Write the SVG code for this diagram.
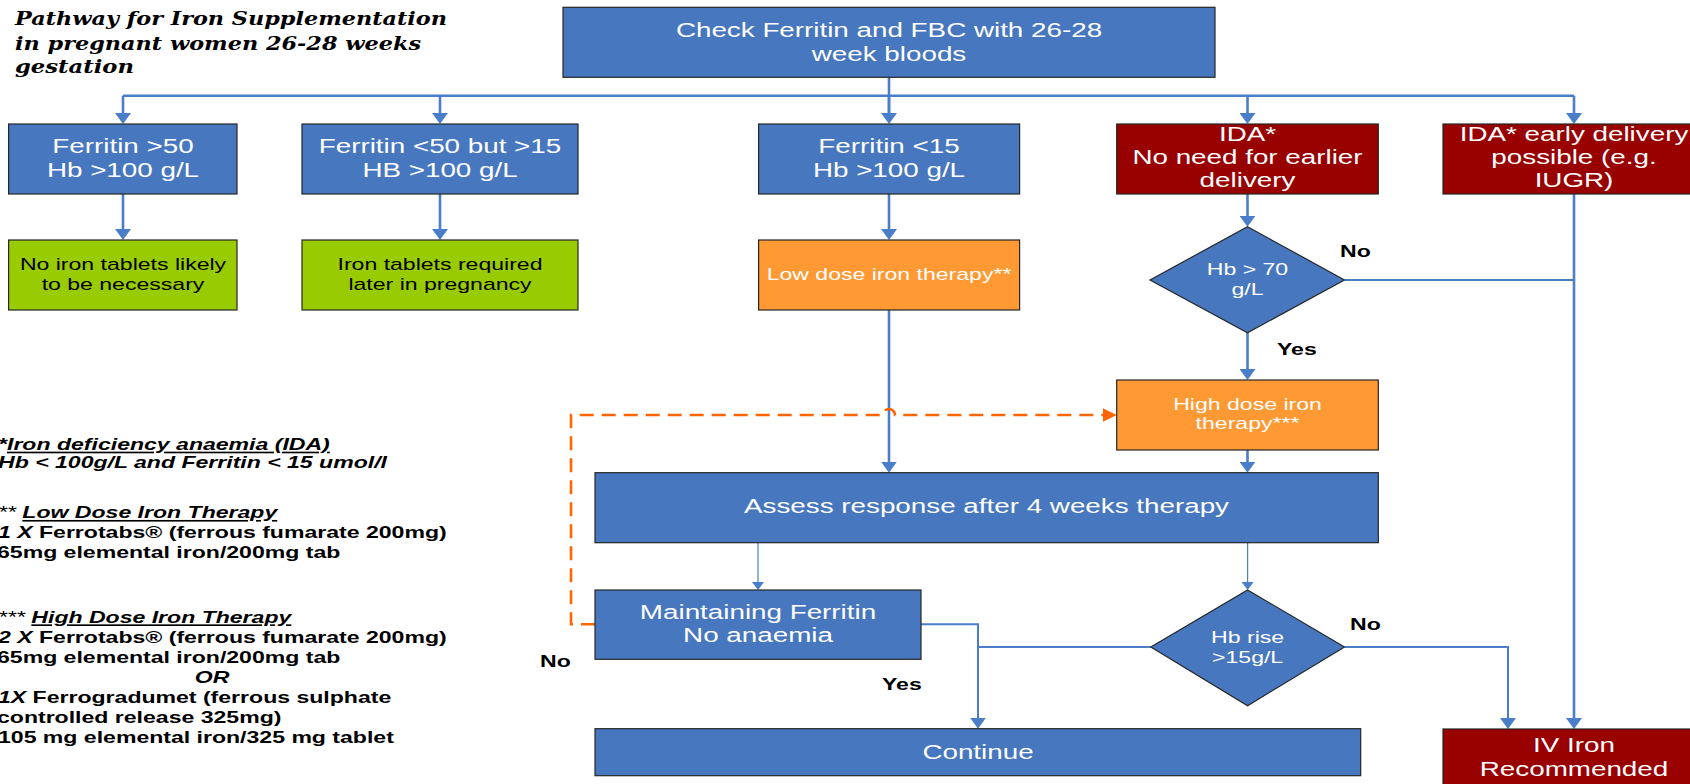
<svg xmlns="http://www.w3.org/2000/svg" width="1690" height="784" viewBox="0 0 1690 784">
<defs>
<style>
.b{fill:#4777BE;stroke:#262626;stroke-width:1.2}
.r{fill:#990000;stroke:#262626;stroke-width:1.2}
.g{fill:#99CC00;stroke:#262626;stroke-width:1.2}
.o{fill:#FF9933;stroke:#262626;stroke-width:1.2}
text{font-family:"Liberation Sans",Arial,sans-serif}
.t{font-size:20px;fill:#fff;text-anchor:middle}
.s{font-size:16.6px;fill:#fff;text-anchor:middle}
.k{fill:#000}
.lb{font-size:16.6px;font-weight:bold;fill:#000}
.bi{font-style:italic}
.u{text-decoration:underline}
.c{fill:none;stroke:#4A7EC8;stroke-width:2.6}
.cm{fill:none;stroke:#4A7EC8;stroke-width:2}
.ct{fill:none;stroke:#4A7EC8;stroke-width:1.2}
.cd{fill:none;stroke:#FF6600;stroke-width:2.6;stroke-dasharray:14 8}
.title{font-family:"DejaVu Serif",serif;font-weight:bold;font-style:italic;font-size:19px;fill:#000}
</style>
<marker id="ah" viewBox="0 0 11 16" markerWidth="11" markerHeight="16" refX="7" refY="8" orient="auto" markerUnits="userSpaceOnUse"><path d="M0,0 L11,8 L0,16 Z" fill="#4A7EC8"/></marker>
<marker id="at" viewBox="0 0 8 12" markerWidth="8" markerHeight="12" refX="5" refY="6" orient="auto" markerUnits="userSpaceOnUse"><path d="M0,0 L8,6 L0,12 Z" fill="#4A7EC8"/></marker>
<marker id="ao" viewBox="0 0 14 14" markerWidth="14" markerHeight="14" refX="10" refY="7" orient="auto" markerUnits="userSpaceOnUse"><path d="M0,0 L14,7 L0,14 Z" fill="#FF6600"/></marker>
</defs>
<rect width="1690" height="784" fill="#fff"/>

<g id="title">
<text class="title" x="15" y="25" textLength="432" lengthAdjust="spacingAndGlyphs">Pathway for Iron Supplementation</text>
<text class="title" x="15" y="50" textLength="406" lengthAdjust="spacingAndGlyphs">in pregnant women 26-28 weeks</text>
<text class="title" x="15" y="72.5" textLength="119" lengthAdjust="spacingAndGlyphs">gestation</text>
</g>

<g id="connectors">
<path class="c" d="M889,77.3 V120"/>
<path class="c" d="M123,95.7 H1574"/>
<path class="c" d="M123,95.7 V120" marker-end="url(#ah)"/>
<path class="c" d="M440,95.7 V120" marker-end="url(#ah)"/>
<path class="c" d="M889,95.7 V120" marker-end="url(#ah)"/>
<path class="c" d="M1247.5,95.7 V120" marker-end="url(#ah)"/>
<path class="c" d="M1574,95.7 V120" marker-end="url(#ah)"/>
<path class="c" d="M123,194 V236" marker-end="url(#ah)"/>
<path class="c" d="M440,194 V236" marker-end="url(#ah)"/>
<path class="c" d="M889,194 V236" marker-end="url(#ah)"/>
<path class="c" d="M1247.5,194 V222.7" marker-end="url(#ah)"/>
<path class="c" d="M889,310 V468.7" marker-end="url(#ah)"/>
<path class="c" d="M1247.5,332.7 V376" marker-end="url(#ah)"/>
<path class="c" d="M1247.5,450 V468.7" marker-end="url(#ah)"/>
<path class="cm" d="M1344.5,280 H1574"/>
<path class="c" d="M1574,194 V725" marker-end="url(#ah)"/>
<path class="ct" d="M758,542.7 V587" marker-end="url(#at)"/>
<path class="ct" d="M1247.6,542.7 V587" marker-end="url(#at)"/>
<path class="cm" d="M921,624.3 H978 V724.7" marker-end="url(#ah)"/>
<path class="cm" d="M1150.8,647 H978"/>
<path class="cm" d="M1344.5,647 H1508 V725" marker-end="url(#ah)"/>
<path class="cd" d="M595,624.3 H571 V415 H883 A6,6 0 0 1 895,415 H1112.7" marker-end="url(#ao)"/>
</g>

<g id="n-check">
<rect class="b" x="563" y="7.3" width="652" height="70"/>
<text class="t" transform="matrix(1.39 0 0 1 889 0)" y="37">Check Ferritin and FBC with 26-28</text>
<text class="t" transform="matrix(1.39 0 0 1 889 0)" y="61">week bloods</text>
</g>
<g id="n-ferr50">
<rect class="b" x="8.6" y="124" width="228.4" height="70"/>
<text class="t" transform="matrix(1.39 0 0 1 123 0)" y="153">Ferritin &gt;50</text>
<text class="t" transform="matrix(1.39 0 0 1 123 0)" y="177">Hb &gt;100 g/L</text>
</g>
<g id="n-ferr15-50">
<rect class="b" x="302" y="124" width="276" height="70"/>
<text class="t" transform="matrix(1.39 0 0 1 440 0)" y="153">Ferritin &lt;50 but &gt;15</text>
<text class="t" transform="matrix(1.39 0 0 1 440 0)" y="177">HB &gt;100 g/L</text>
</g>
<g id="n-ferr15">
<rect class="b" x="758.6" y="124" width="261" height="70"/>
<text class="t" transform="matrix(1.39 0 0 1 889 0)" y="153">Ferritin &lt;15</text>
<text class="t" transform="matrix(1.39 0 0 1 889 0)" y="177">Hb &gt;100 g/L</text>
</g>
<g id="n-ida">
<rect class="r" x="1116.7" y="124" width="261.6" height="70"/>
<text class="t" transform="matrix(1.39 0 0 1 1247.5 0)" y="140.7">IDA*</text>
<text class="t" transform="matrix(1.39 0 0 1 1247.5 0)" y="164">No need for earlier</text>
<text class="t" transform="matrix(1.39 0 0 1 1247.5 0)" y="187.3">delivery</text>
</g>
<g id="n-ida-early">
<rect class="r" x="1443" y="124" width="262" height="70"/>
<text class="t" transform="matrix(1.39 0 0 1 1574 0)" y="140.7">IDA* early delivery</text>
<text class="t" transform="matrix(1.39 0 0 1 1574 0)" y="164">possible (e.g.</text>
<text class="t" transform="matrix(1.39 0 0 1 1574 0)" y="187.3">IUGR)</text>
</g>
<g id="n-noiron">
<rect class="g" x="8.6" y="240" width="228.4" height="70"/>
<text class="s k" transform="matrix(1.39 0 0 1 123 0)" y="270">No iron tablets likely</text>
<text class="s k" transform="matrix(1.39 0 0 1 123 0)" y="290">to be necessary</text>
</g>
<g id="n-later">
<rect class="g" x="302" y="240" width="276" height="70"/>
<text class="s k" transform="matrix(1.39 0 0 1 440 0)" y="270">Iron tablets required</text>
<text class="s k" transform="matrix(1.39 0 0 1 440 0)" y="290">later in pregnancy</text>
</g>
<g id="n-lowdose">
<rect class="o" x="758.6" y="240" width="261" height="70"/>
<text class="s" transform="matrix(1.39 0 0 1 889 0)" y="280">Low dose iron therapy**</text>
</g>
<g id="n-hb70">
<polygon class="b" points="1247.5,226.7 1344.5,280 1247.5,332.7 1150,280"/>
<text class="s" transform="matrix(1.39 0 0 1 1247.5 0)" y="275">Hb &gt; 70</text>
<text class="s" transform="matrix(1.39 0 0 1 1247.5 0)" y="295">g/L</text>
</g>
<g id="n-highdose">
<rect class="o" x="1116.7" y="380" width="261.6" height="70"/>
<text class="s" transform="matrix(1.39 0 0 1 1247.5 0)" y="410">High dose iron</text>
<text class="s" transform="matrix(1.39 0 0 1 1247.5 0)" y="429.3">therapy***</text>
</g>
<g id="n-assess">
<rect class="b" x="595" y="472.7" width="783.3" height="70"/>
<text class="t" transform="matrix(1.39 0 0 1 986.5 0)" y="513">Assess response after 4 weeks therapy</text>
</g>
<g id="n-maintain">
<rect class="b" x="595" y="590" width="326" height="69.3"/>
<text class="t" transform="matrix(1.39 0 0 1 758 0)" y="619.3">Maintaining Ferritin</text>
<text class="t" transform="matrix(1.39 0 0 1 758 0)" y="641.7">No anaemia</text>
</g>
<g id="n-hbrise">
<polygon class="b" points="1247.6,590 1344.5,647 1247.6,705.7 1150.8,647"/>
<text class="s" transform="matrix(1.39 0 0 1 1247.6 0)" y="643.3">Hb rise</text>
<text class="s" transform="matrix(1.39 0 0 1 1247.6 0)" y="663.3">&gt;15g/L</text>
</g>
<g id="n-continue">
<rect class="b" x="595" y="728.7" width="765.7" height="47"/>
<text class="t" transform="matrix(1.39 0 0 1 978 0)" y="759">Continue</text>
</g>
<g id="n-iv">
<rect class="r" x="1443" y="729" width="262" height="75"/>
<text class="t" transform="matrix(1.39 0 0 1 1574 0)" y="752.3">IV Iron</text>
<text class="t" transform="matrix(1.39 0 0 1 1574 0)" y="776">Recommended</text>
</g>

<g id="labels">
<text class="lb" transform="matrix(1.39 0 0 1 1340 0)" y="257">No</text>
<text class="lb" transform="matrix(1.39 0 0 1 1277 0)" y="355">Yes</text>
<text class="lb" transform="matrix(1.39 0 0 1 1350 0)" y="630">No</text>
<text class="lb" transform="matrix(1.39 0 0 1 540 0)" y="666.7">No</text>
<text class="lb" transform="matrix(1.39 0 0 1 882 0)" y="690">Yes</text>
</g>

<g id="legend">
<text class="lb" transform="matrix(1.39 0 0 1 -2 0)" y="450"><tspan class="bi">*</tspan><tspan class="bi u">Iron deficiency anaemia (IDA)</tspan></text>
<text class="lb bi" transform="matrix(1.39 0 0 1 -2 0)" y="468.3">Hb &lt; 100g/L and Ferritin &lt; 15 umol/l</text>
<text class="lb" transform="matrix(1.39 0 0 1 -2 0)" y="518.3"><tspan class="bi" font-weight="normal">** </tspan><tspan class="bi u">Low Dose Iron Therapy</tspan></text>
<text class="lb" transform="matrix(1.39 0 0 1 -2 0)" y="538.3"><tspan class="bi">1 X</tspan> Ferrotabs® (ferrous fumarate 200mg)</text>
<text class="lb" transform="matrix(1.39 0 0 1 -3 0)" y="558.3">65mg elemental iron/200mg tab</text>
<text class="lb" transform="matrix(1.39 0 0 1 -2 0)" y="622.7"><tspan class="bi" font-weight="normal">*** </tspan><tspan class="bi u">High Dose Iron Therapy</tspan></text>
<text class="lb" transform="matrix(1.39 0 0 1 -2 0)" y="642.7"><tspan class="bi">2 X</tspan> Ferrotabs® (ferrous fumarate 200mg)</text>
<text class="lb" transform="matrix(1.39 0 0 1 -3 0)" y="662.7">65mg elemental iron/200mg tab</text>
<text class="lb bi" transform="matrix(1.39 0 0 1 212 0)" y="682.7" text-anchor="middle">OR</text>
<text class="lb" transform="matrix(1.39 0 0 1 -2 0)" y="702.7"><tspan class="bi">1X</tspan> Ferrogradumet (ferrous sulphate</text>
<text class="lb" transform="matrix(1.39 0 0 1 -3 0)" y="722.7">controlled release 325mg)</text>
<text class="lb" transform="matrix(1.39 0 0 1 -2 0)" y="742.7">105 mg elemental iron/325 mg tablet</text>
</g>
</svg>
